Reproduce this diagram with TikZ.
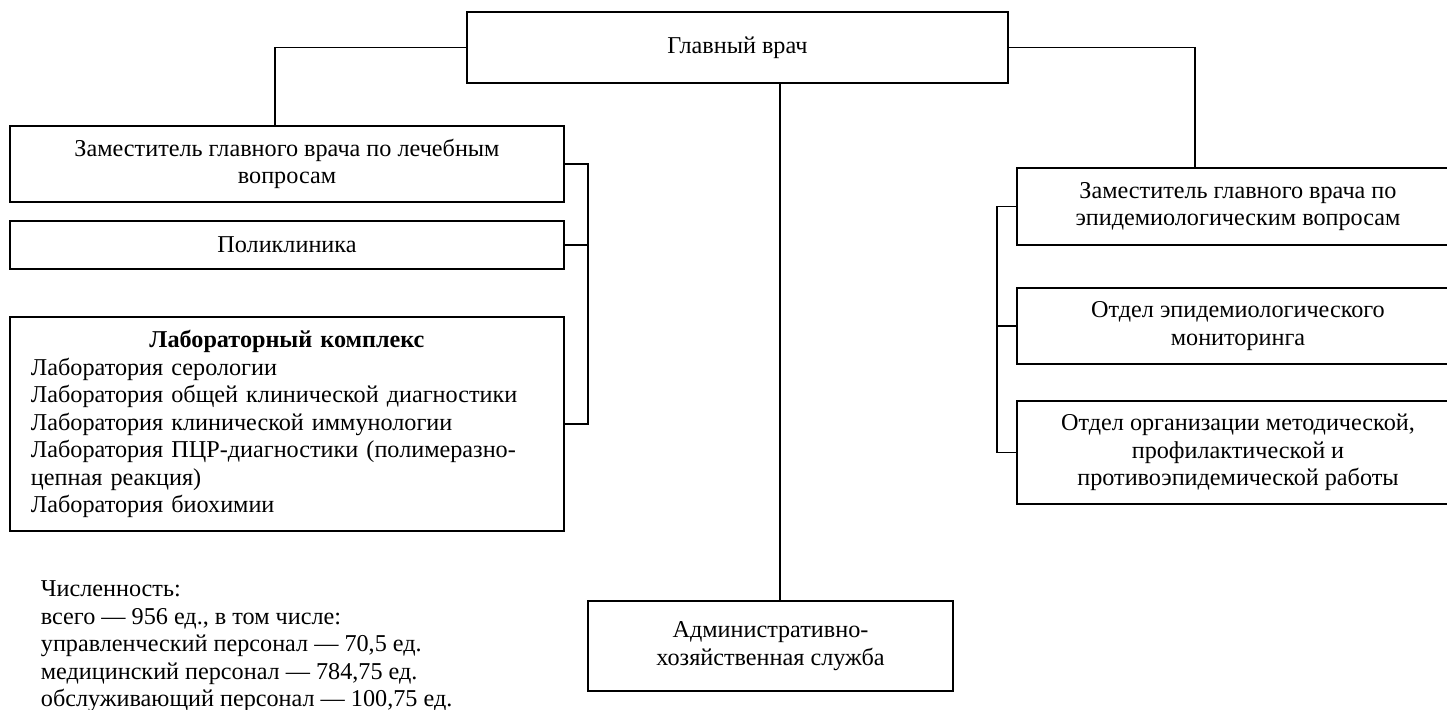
\documentclass[tikz,border=0pt]{standalone}
\usepackage{fontspec}
\setmainfont{Liberation Serif}
\begin{document}
\begin{tikzpicture}[x=0.5pt, y=-0.5pt, line width=0.9pt,
  every node/.style={font=\fontsize{12.1}{13.75}\selectfont, align=center, inner sep=0pt},
  box/.style={draw, rectangle, minimum width=277pt}]
\useasboundingbox (0,0) rectangle (1447,710);
\node[box, minimum width=270.5pt, minimum height=35.5pt] (glav) at (737.5,47.5) {Главный врач};
\node[box, minimum height=38pt] (zamlech) at (287,164) {Заместитель главного врача по лечебным\\вопросам};
\node[box, minimum height=24pt] (poli) at (287,245) {Поликлиника};
\node[box, minimum height=107pt, text width=256pt, align=left] (lab) at (287,424) {\makebox[256pt]{\textbf{Лабораторный комплекс}}\\Лаборатория серологии\\Лаборатория общей клинической диагностики\\Лаборатория клинической иммунологии\\Лаборатория ПЦР-диагностики (полимеразно-\\цепная реакция)\\Лаборатория биохимии};
\node[box, minimum width=182.5pt, minimum height=45pt] (adm) at (770.5,646) {Административно-\\хозяйственная служба};
\node[box, minimum width=221pt, minimum height=38.5pt] (zamepid) at (1238,206.5) {Заместитель главного врача по\\эпидемиологическим вопросам};
\node[box, minimum width=221pt, minimum height=38pt] (monit) at (1238,326) {Отдел эпидемиологического\\мониторинга};
\node[box, minimum width=221pt, minimum height=51.5pt] (org) at (1238,452.5) {Отдел организации методической,\\профилактической и\\противоэпидемической работы};
\node[anchor=north west, align=left] (stat) at (40,580) {Численность:\\всего — 956 ед., в том числе:\\управленческий персонал — 70,5 ед.\\медицинский персонал — 784,75 ед.\\обслуживающий персонал — 100,75 ед.};
\draw (glav.west) -| ([xshift=-6pt]zamlech.north);
\draw (glav.east) -| ([xshift=-21.5pt]zamepid.north);
\draw ([xshift=4.75pt]adm.north) -- ([xshift=4.75pt]adm.north |- glav.south);
\draw (zamlech.east) -- ++(11.5pt,0) |- (lab.east);
\draw (poli.east) -- ++(11.5pt,0);
\draw (zamepid.west) -- ++(-9.5pt,0) |- (org.west);
\draw (monit.west) -- ++(-9.5pt,0);
\end{tikzpicture}
\end{document}
